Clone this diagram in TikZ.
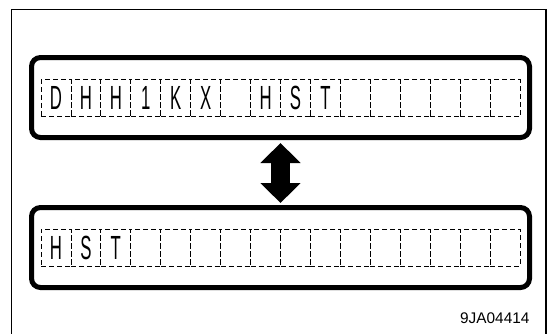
\documentclass[tikz,border=0pt]{standalone}
\usepackage{fontspec}
\setmainfont{Liberation Sans}
\newfontfamily\lcdfont[FakeStretch=0.5]{Liberation Sans}
\usetikzlibrary{positioning,arrows.meta}

\begin{document}
\begin{tikzpicture}[x=1pt,y=-1pt,
  screen/.style={draw,line width=5pt,rounded corners=9pt,minimum width=498pt,minimum height=80pt},
  cell/.style={draw,dash pattern=on 5pt off 3pt,line width=0.8pt,minimum width=29.94pt,minimum height=37pt,inner sep=0pt,font=\lcdfont\fontsize{33.5}{33.5}\selectfont}]
\useasboundingbox (0,0) rectangle (555,333);
\draw[line width=1.2pt] (11.7,9.3) rectangle (546,345);
\node[screen] (upper) at (280.5,97.5) {};
\node[screen] (lower) at (280.5,247.5) {};
% display rows
\foreach \c [count=\i] in {D,H,H,1,K,X,{},H,S,T,{},{},{},{},{},{}}
  \node[cell] (up\i) at ({41+29.94*(\i-0.5)},98.3) {\c};
\foreach \c [count=\i] in {H,S,T,{},{},{},{},{},{},{},{},{},{},{},{},{}}
  \node[cell] (lo\i) at ({41+29.94*(\i-0.5)},247.5) {\c};
\draw[line width=19pt,{Triangle[length=20pt,width=39pt]}-{Triangle[length=20pt,width=39pt]},shorten <=3pt,shorten >=2pt] (upper.south) -- (lower.north);
\node[anchor=base east,font=\fontsize{15.4}{15.4}\selectfont] (code) at (533,323) {9JA04414};
\end{tikzpicture}
\end{document}
